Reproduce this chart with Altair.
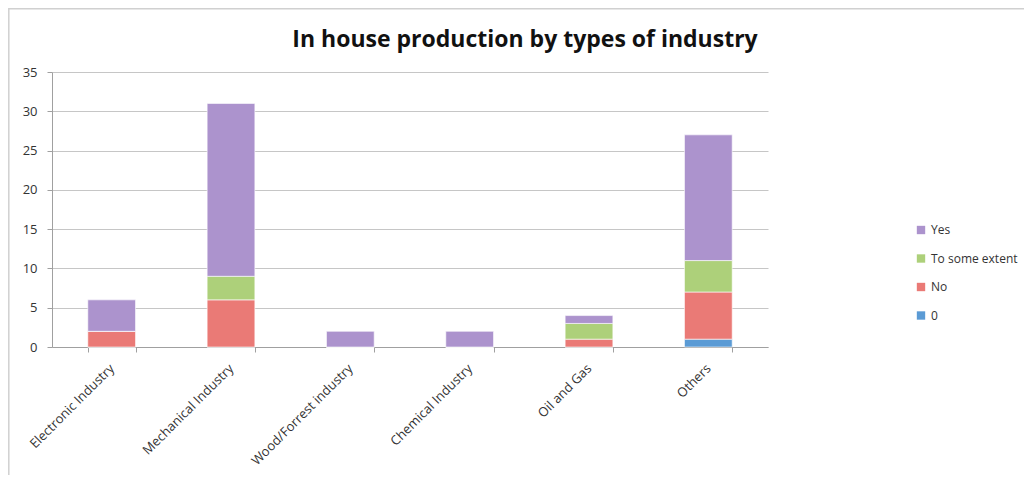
import altair as alt
import pandas as pd

categories = ["Electronic Industry", "Mechanical Industry", "Wood/Forrest industry",
              "Chemical Industry", "Oil and Gas", "Others"]
series = ["0", "No", "To some extent", "Yes"]
values_0 = [0, 0, 0, 0, 0, 1]
values_no = [2, 6, 0, 0, 1, 6]
values_some = [0, 3, 0, 0, 2, 4]
values_yes = [4, 22, 2, 2, 1, 16]
colors = ["#5b9bd5", "#ea7a76", "#add07a", "#ac93cd"]
title_text = "In house production by types of industry"

rows = []
for s_i, (s, vals) in enumerate(zip(series, [values_0, values_no, values_some, values_yes])):
    for c, v in zip(categories, vals):
        rows.append({"Industry": c, "Answer": s, "Count": v, "order": s_i})
df = pd.DataFrame(rows)

FONT = "Open Sans"

bars = alt.Chart(df).mark_bar(stroke="white", strokeWidth=0.6).encode(
    x=alt.X("Industry:N", sort=categories, title=None,
            scale=alt.Scale(paddingInner=0.6, paddingOuter=0.3),
            axis=alt.Axis(labelAngle=-45, labelAlign="right", labelBaseline="middle",
                          tickBand="extent", tickColor="#a0a0a0", domainColor="#a0a0a0",
                          labelFont=FONT, labelFontSize=13, labelColor="#333333",
                          tickSize=5, labelPadding=14)),
    y=alt.Y("Count:Q", title=None, stack="zero",
            scale=alt.Scale(domain=[0, 35], nice=False),
            axis=alt.Axis(values=list(range(0, 36, 5)), gridColor="#c6c6c6",
                          domainColor="#a0a0a0", tickColor="#a0a0a0", tickSize=5,
                          labelFont=FONT, labelFontSize=13, labelColor="#333333",
                          labelPadding=10)),
    color=alt.Color("Answer:N", sort=series,
                    scale=alt.Scale(domain=series, range=colors),
                    legend=alt.Legend(title=None, orient="none", legendX=863, legendY=152,
                                      values=["Yes", "To some extent", "No", "0"],
                                      symbolType="square", symbolSize=70,
                                      symbolStrokeWidth=0, labelFont=FONT,
                                      labelFontSize=12, labelColor="#333333",
                                      rowPadding=16.5)),
    order=alt.Order("order:Q"),
)

frame = alt.Chart(pd.DataFrame({"a": [0]})).mark_rect(
    filled=False, stroke="#d0d0d0", strokeWidth=1.5
).encode(x=alt.value(-43.2), x2=alt.value(1100), y=alt.value(-63.2), y2=alt.value(600))

title = alt.Chart(pd.DataFrame({"t": [title_text]})).mark_text(
    font=FONT, fontSize=23, fontWeight="bold", color="#111111",
    align="center", baseline="middle"
).encode(text="t:N", x=alt.value(473), y=alt.value(-32))

chart = alt.layer(frame, bars, title).properties(
    width=716, height=275,
    padding={"left": 44, "top": 64, "right": 256, "bottom": 128},
    autosize=alt.AutoSizeParams(type="none"),
).configure_view(stroke=None)

chart.save("out.html", embed_options={"renderer": "svg", "actions": False})
